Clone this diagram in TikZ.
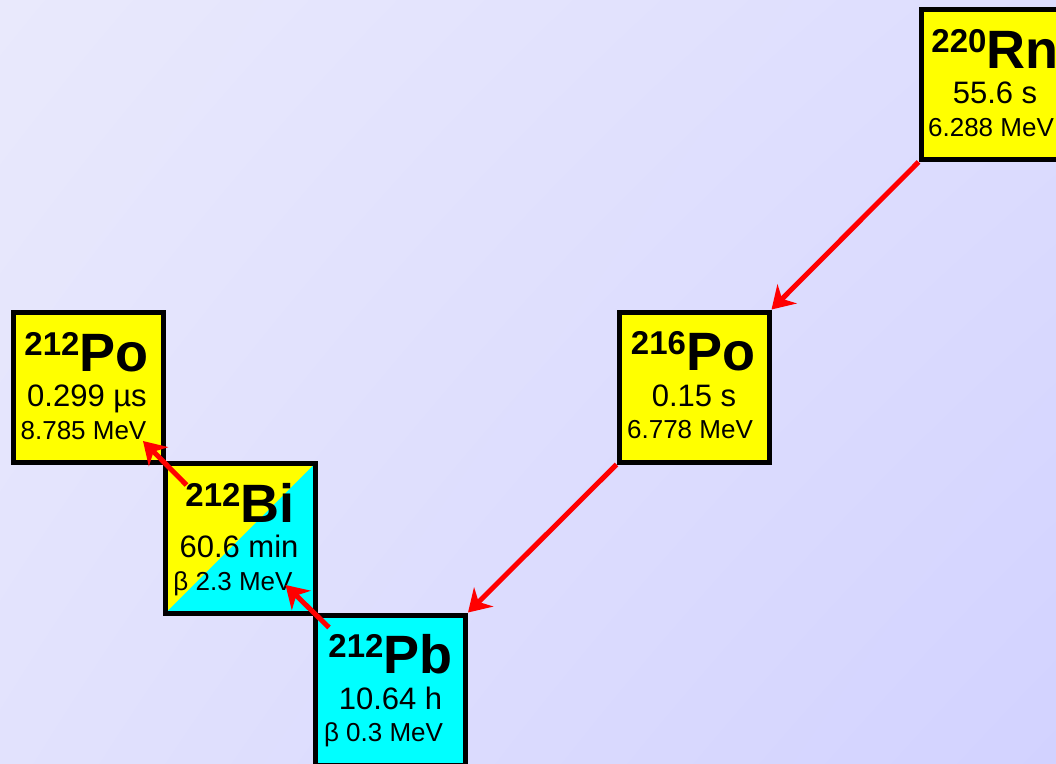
\documentclass[tikz,border=0pt]{standalone}
\usepackage{fontspec}
\setmainfont{Liberation Sans}
\usetikzlibrary{arrows.meta,calc,shadings}
\definecolor{bgtl}{HTML}{E9E9FC}
\definecolor{bgtr}{HTML}{DDDDFE}
\definecolor{bgbl}{HTML}{E2E2FD}
\definecolor{bgbr}{HTML}{D2D2FF}
\definecolor{nucyellow}{HTML}{FFFF00}
\definecolor{nuccyan}{HTML}{00FFFF}
\definecolor{arrowred}{HTML}{FF0000}
\newcommand\isotope[2]{{\fontsize{33}{33}\selectfont\raisebox{16pt}{#1}}#2}
\begin{document}
\begin{tikzpicture}[x=1pt,y=-1pt,
  nuc/.style={draw=black,line width=5pt,minimum size=150pt,inner sep=0pt},
  alphabox/.style={nuc,fill=nucyellow},
  betabox/.style={nuc,fill=nuccyan},
  splitbox/.style={nuc,fill=nucyellow,path picture={
     \fill[nuccyan] (path picture bounding box.south west) --
       (path picture bounding box.south east) --
       (path picture bounding box.north east) -- cycle;}},
  isolab/.style={anchor=base,inner sep=0pt,font=\bfseries\fontsize{54}{54}\selectfont},
  timelab/.style={anchor=base,inner sep=0pt,font=\fontsize{31}{31}\selectfont},
  enlab/.style={anchor=base,inner sep=0pt,font=\fontsize{26}{26}\selectfont},
  decay/.style={draw=arrowred,line width=5pt,-{Stealth[length=22pt,width=27pt,inset=7pt]}}]
\useasboundingbox (0,0) rectangle (1056,763);
\shade[upper left=bgtl,upper right=bgtr,lower left=bgbl,lower right=bgbr] (0,0) rectangle (1056,763);
\clip (0,0) rectangle (1056,763);
% boxes
\node[alphabox] (rn220) at (996,84.5) {};
\node[alphabox] (po216) at (694,387) {};
\node[betabox]  (pb212) at (390.5,690) {};
\node[splitbox] (bi212) at (240,538.5) {};
\node[alphabox] (po212) at (88.5,387.5) {};
% texts
\node[isolab]  (rn220a) at ($(rn220.north)+(-1,61)$) {\isotope{220}{Rn}};
\node[timelab] (rn220b) at ($(rn220.north)+(-1,96.5)$) {55.6 s};
\node[enlab]   (rn220c) at ($(rn220.north)+(-5,129)$) {6.288 MeV};
\node[isolab]  (po216a) at ($(po216.north)+(-1,61)$) {\isotope{216}{Po}};
\node[timelab] (po216b) at ($(po216.north)+(0,96.5)$) {0.15 s};
\node[enlab]   (po216c) at ($(po216.north)+(-4,129)$) {6.778 MeV};
\node[isolab]  (pb212a) at ($(pb212.north)+(0,61)$) {\isotope{212}{Pb}};
\node[timelab] (pb212b) at ($(pb212.north)+(0,96.5)$) {10.64 h};
\node[enlab]   (pb212c) at ($(pb212.north)+(-7,129)$) {β 0.3 MeV};
\node[isolab]  (bi212a) at ($(bi212.north)+(0,61)$) {\isotope{212}{Bi}};
\node[timelab] (bi212b) at ($(bi212.north)+(-1,96.5)$) {60.6 min};
\node[enlab]   (bi212c) at ($(bi212.north)+(-7,129)$) {β 2.3 MeV};
\node[isolab]  (po212a) at ($(po212.north)+(-2,61)$) {\isotope{212}{Po}};
\node[timelab] (po212b) at ($(po212.north)+(-1.5,96.5)$) {0.299 µs};
\node[enlab]   (po212c) at ($(po212.north)+(-5,129)$) {8.785 MeV};
% arrows
\coordinate (pbstart) at ($(pb212.north west)+(16,15)$);
\coordinate (biend) at ($(bi212.south east)+(-32,-31)$);
\coordinate (bistart) at ($(bi212.north west)+(24,24)$);
\coordinate (poend) at ($(po212.south east)+(-23,-24)$);
\draw[decay] (rn220.south west) -- (po216.north east);
\draw[decay] (po216.south west) -- (pb212.north east);
\draw[decay] (pbstart) -- (biend);
\draw[decay] (bistart) -- (poend);
\end{tikzpicture}
\end{document}
